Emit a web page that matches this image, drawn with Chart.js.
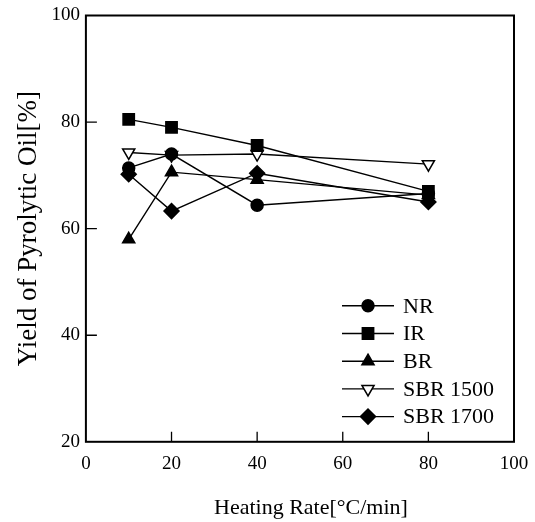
<!DOCTYPE html>
<html lang="en">
<head>
    <meta charset="UTF-8">
    <title>Yield of Pyrolytic Oil vs Heating Rate</title>
    <script src="https://cdn.jsdelivr.net/npm/chart.js@4.4.0/dist/chart.umd.min.js"></script>
    <style>
        body {
            margin: 0;
            background: #fff;
        }
        #wrap {
            width: 535px;
            height: 522px;
        }
    </style>
</head>
<body>
    <div id="wrap"><canvas id="oilChart" width="535" height="522"></canvas></div>
    <script>
        // data
        var heatingRates = [10, 20, 40, 80];
        var seriesNames = ['NR', 'IR', 'BR', 'SBR 1500', 'SBR 1700'];
        var nrYield = [71.4, 74.0, 64.4, 66.6];
        var irYield = [80.5, 79.0, 75.6, 67.0];
        var brYield = [58.0, 70.6, 69.2, 66.3];
        var sbr1500Yield = [74.3, 73.8, 74.0, 72.1];
        var sbr1700Yield = [70.2, 63.3, 70.4, 65.0];
        var xTicks = [0, 20, 40, 60, 80, 100];
        var yTicks = [20, 40, 60, 80, 100];

        var serif = '"Liberation Serif", "Times New Roman", serif';

        function toPoints(ys) {
            return heatingRates.map(function (x, i) { return { x: x, y: ys[i] }; });
        }

        var markers = [
            { style: 'circle', radius: 6, rotation: 0, fill: '#000' },
            { style: 'rect', radius: 8, rotation: 0, fill: '#000' },
            { style: 'triangle', radius: 7, rotation: 0, fill: '#000' },
            { style: 'triangle', radius: 7, rotation: 180, fill: '#fff' },
            { style: 'rectRot', radius: 7.5, rotation: 0, fill: '#000' }
        ];
        var allSeries = [nrYield, irYield, brYield, sbr1500Yield, sbr1700Yield];

        var datasets = allSeries.map(function (ys, i) {
            var m = markers[i];
            return {
                label: seriesNames[i],
                data: toPoints(ys),
                borderColor: '#000',
                borderWidth: 1.4,
                pointStyle: m.style,
                pointRadius: m.radius,
                pointRotation: m.rotation,
                pointBackgroundColor: m.fill,
                pointBorderColor: '#000',
                pointBorderWidth: 1.5,
                fill: false,
                tension: 0
            };
        });

        // box round the plot plus inward ticks
        var frame = {
            id: 'frame',
            afterDatasetsDraw: function (chart) {
                var c = chart.ctx, a = chart.chartArea;
                var xs = chart.scales.x, ys = chart.scales.y;
                c.save();
                c.strokeStyle = '#000';
                c.lineWidth = 2;
                c.strokeRect(a.left, a.top, a.right - a.left, a.bottom - a.top);
                c.lineWidth = 1.3;
                c.beginPath();
                xTicks.slice(1, -1).forEach(function (v) {
                    var px = xs.getPixelForValue(v);
                    c.moveTo(px, a.bottom);
                    c.lineTo(px, a.bottom - 10);
                });
                yTicks.slice(1, -1).forEach(function (v) {
                    var py = ys.getPixelForValue(v);
                    c.moveTo(a.left, py);
                    c.lineTo(a.left + 11, py);
                });
                c.stroke();
                c.restore();
            }
        };

        // legend with line + marker, lower right inside the plot
        var lineLegend = {
            id: 'lineLegend',
            afterDraw: function (chart) {
                var c = chart.ctx, a = chart.chartArea;
                var x0 = a.right - 172, y0 = a.bottom - 136;
                c.save();
                c.font = '22px ' + serif;
                c.textBaseline = 'middle';
                chart.data.datasets.forEach(function (ds, i) {
                    var y = y0 + i * 27.7;
                    c.strokeStyle = '#000';
                    c.lineWidth = 1.4;
                    c.beginPath();
                    c.moveTo(x0, y);
                    c.lineTo(x0 + 52, y);
                    c.stroke();
                    c.fillStyle = ds.pointBackgroundColor;
                    c.lineWidth = 1.5;
                    Chart.helpers.drawPoint(c, {
                        pointStyle: ds.pointStyle,
                        radius: ds.pointRadius,
                        rotation: ds.pointRotation,
                        borderWidth: 1.5
                    }, x0 + 26, y);
                    c.fillStyle = '#000';
                    c.fillText(ds.label, x0 + 61, y + 1);
                });
                c.restore();
            }
        };

        new Chart(document.getElementById('oilChart'), {
            type: 'line',
            data: { datasets: datasets },
            plugins: [frame, lineLegend],
            options: {
                responsive: false,
                animation: false,
                layout: { padding: { top: 4, right: 0, left: 7, bottom: 0 } },
                plugins: {
                    legend: { display: false },
                    tooltip: { enabled: false }
                },
                scales: {
                    x: {
                        type: 'linear',
                        min: 0,
                        max: 100,
                        afterBuildTicks: function (s) { s.ticks = xTicks.map(function (v) { return { value: v }; }); },
                        afterFit: function (s) { s.paddingRight = 21; },
                        grid: { display: false, drawTicks: false },
                        border: { display: false },
                        ticks: { color: '#000', font: { family: serif, size: 19 }, padding: 11, maxRotation: 0 },
                        title: {
                            display: true,
                            text: '\u2002\u2002Heating Rate[°C/min]',
                            color: '#000',
                            font: { family: serif, size: 22 },
                            padding: { top: 8, bottom: 1 }
                        }
                    },
                    y: {
                        min: 20,
                        max: 100,
                        afterBuildTicks: function (s) { s.ticks = yTicks.map(function (v) { return { value: v }; }); },
                        grid: { display: false, drawTicks: false },
                        border: { display: false },
                        ticks: { color: '#000', font: { family: serif, size: 19, lineHeight: 1 }, padding: 6 },
                        title: {
                            display: true,
                            text: 'Yield of Pyrolytic Oil[%]',
                            color: '#000',
                            font: { family: serif, size: 27 },
                            padding: { top: 6, bottom: 0 }
                        }
                    }
                }
            }
        });
    </script>
</body>
</html>
